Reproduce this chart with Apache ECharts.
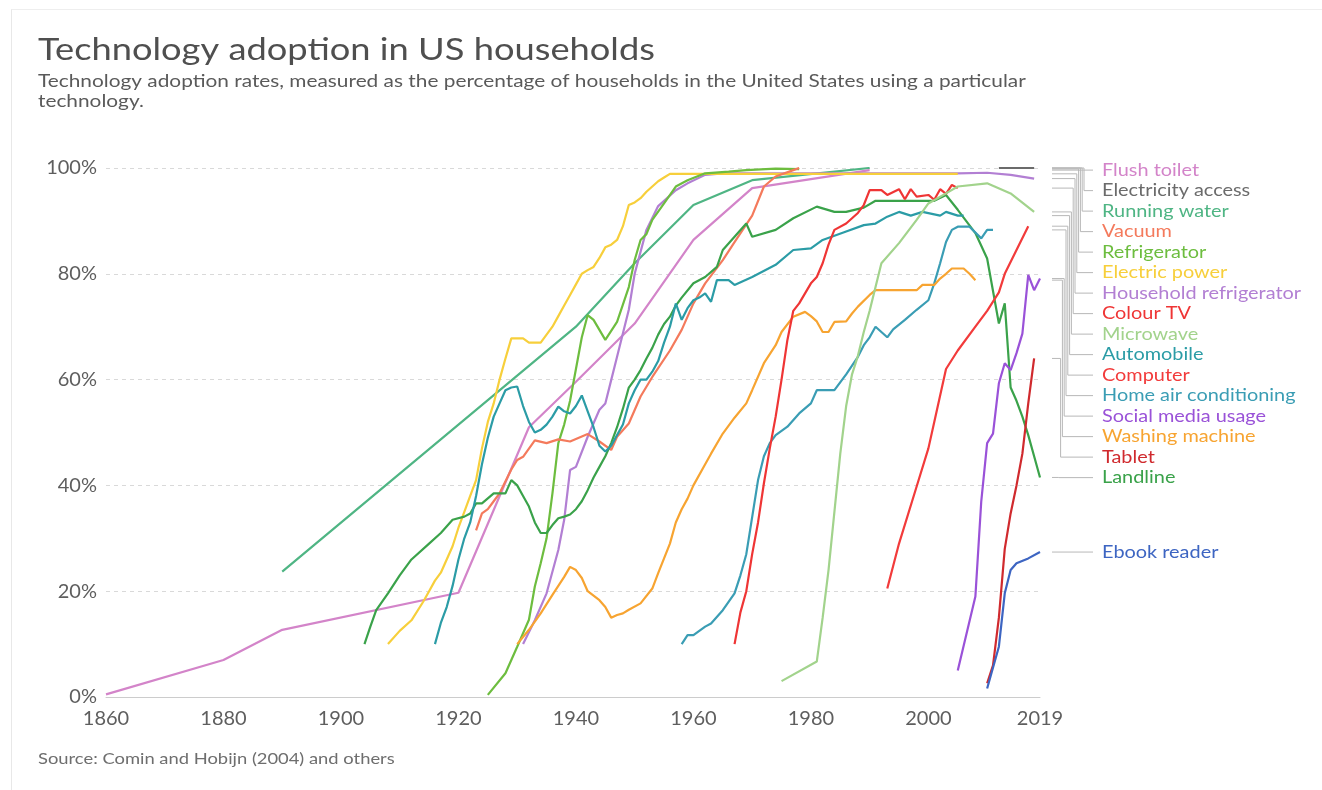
<!DOCTYPE html>
<html>
<head>
<meta charset="utf-8">
<script src="https://cdn.jsdelivr.net/npm/echarts@6/dist/echarts.min.js"></script>
<style>
  html, body { margin: 0; padding: 0; background: #fff; }
  #frame { position: absolute; left: 11px; top: 9px; width: 1330px; height: 800px; border-left: 1px solid #e8e8e8; border-top: 1px solid #eeeeee; }
  #chart { position: absolute; left: 0; top: 0; width: 1322px; height: 790px; }
</style>
</head>
<body>
<div id="frame"></div>
<div id="chart"></div>
<script>
// tick labels
var xTicks = [1860, 1880, 1900, 1920, 1940, 1960, 1980, 2000, 2019];
var yTicks = [0, 20, 40, 60, 80, 100];

// technologies, in the order of the labels on the right
var techNames = ['Flush toilet', 'Electricity access', 'Running water', 'Vacuum', 'Refrigerator',
	'Electric power', 'Household refrigerator', 'Colour TV', 'Microwave', 'Automobile', 'Computer',
	'Home air conditioning', 'Social media usage', 'Washing machine', 'Tablet', 'Landline', 'Ebook reader'];

// [year, % of households]
var flushToilet = [[1860, 0.5], [1880, 7], [1890, 12.7], [1920, 19.7], [1932, 51], [1940, 59.6],
	[1950, 70.6], [1960, 86.4], [1970, 96.2], [1990, 99.6]];
var electricityAccess = [[2012, 100], [2015, 100], [2018, 100]];
var runningWater = [[1890, 23.7], [1940, 70], [1950, 82], [1960, 93], [1970, 97.7], [1990, 100]];
var vacuum = [[1923, 31.5], [1924, 34.7], [1925, 35.5], [1926, 37], [1927, 38.5], [1929, 43], [1930, 44.8],
	[1931, 45.4], [1933, 48.5], [1935, 48], [1937, 48.7], [1939, 48.3], [1942, 49.7], [1944, 48.3],
	[1946, 46.7], [1947, 49.2], [1949, 51.7], [1951, 56.8], [1953, 60.5], [1956, 65.5], [1958, 69.4],
	[1960, 74.4], [1962, 78.2], [1965, 82.6], [1967, 86], [1970, 91], [1972, 96.5], [1974, 98.4],
	[1977, 99.6], [1978, 100]];
var refrigerator = [[1925, 0.4], [1928, 4.5], [1930, 9.5], [1932, 14.6], [1933, 20.9], [1934, 25.3],
	[1935, 30], [1936, 38.5], [1937, 48], [1938, 51.5], [1939, 56], [1940, 62], [1941, 68], [1942, 72.2],
	[1943, 71.3], [1944, 69.4], [1945, 67.5], [1947, 70.9], [1949, 77.5], [1950, 82.6], [1951, 86.4],
	[1952, 87.5], [1953, 90.2], [1955, 93.3], [1957, 96.5], [1959, 97.7], [1962, 99], [1966, 99.3],
	[1969, 99.6], [1974, 99.9], [1978, 99.8]];
var electricPower = [[1908, 10], [1910, 12.5], [1912, 14.5], [1914, 18], [1915, 20], [1916, 22],
	[1917, 23.5], [1918, 26], [1919, 28.5], [1920, 32], [1921, 35], [1922, 38], [1923, 41], [1924, 47],
	[1925, 52], [1926, 55.5], [1927, 60], [1928, 64], [1929, 67.8], [1931, 67.8], [1932, 67], [1934, 67],
	[1935, 68.5], [1936, 70], [1937, 72], [1938, 74], [1939, 76], [1940, 78], [1941, 80], [1942, 80.7],
	[1943, 81.3], [1944, 83], [1945, 85], [1946, 85.5], [1947, 86.4], [1948, 89], [1949, 93], [1950, 93.5],
	[1951, 94.3], [1952, 95.5], [1953, 96.5], [1954, 97.5], [1955, 98.2], [1956, 98.9], [2005, 98.9]];
var householdRefrigerator = [[1931, 10], [1933, 14.5], [1935, 19.6], [1937, 27.8], [1938, 33.5],
	[1939, 42.9], [1940, 43.5], [1942, 49.2], [1944, 54.3], [1945, 55.5], [1946, 59.9], [1947, 64.3],
	[1949, 73.2], [1950, 80], [1952, 88.3], [1954, 92.8], [1957, 95.8], [1959, 97.1], [1962, 98.7],
	[1965, 99], [2005, 99], [2010, 99.1], [2014, 98.7], [2018, 98]];
var colourTV = [[1967, 10], [1968, 16], [1969, 20], [1970, 27], [1971, 33], [1972, 40.4], [1973, 47],
	[1974, 53], [1975, 60], [1976, 67.5], [1977, 73], [1978, 74.4], [1979, 76.3], [1980, 78.2],
	[1981, 79.4], [1982, 82], [1983, 85.5], [1984, 88.3], [1986, 89.5], [1987, 90.5], [1988, 91.5],
	[1989, 93], [1990, 95.8], [1992, 95.8], [1993, 94.9], [1995, 96], [1996, 94.1], [1997, 96],
	[1998, 94.6], [2000, 94.9], [2001, 94], [2002, 96], [2003, 95.1], [2004, 96.8], [2005, 96.2]];
var microwave = [[1975, 3], [1981, 6.7], [1982, 15], [1983, 24], [1984, 35], [1985, 46], [1986, 55],
	[1987, 61], [1988, 64.5], [1989, 69], [1990, 73], [1991, 77.5], [1992, 82], [1995, 85.8], [1998, 90.2],
	[2000, 93.3], [2003, 95.2], [2005, 96.5], [2010, 97.1], [2014, 95.2], [2018, 91.7]];
var automobile = [[1916, 10], [1917, 14], [1918, 17], [1919, 21], [1920, 26], [1921, 30], [1922, 33],
	[1923, 38], [1924, 44], [1925, 49], [1926, 53], [1927, 55.5], [1928, 58], [1929, 58.5], [1930, 58.7],
	[1931, 55], [1932, 52], [1933, 50], [1934, 50.5], [1935, 51.5], [1936, 53], [1937, 54.9], [1938, 54],
	[1939, 53.6], [1940, 55], [1941, 57], [1942, 54], [1943, 51], [1944, 47.5], [1945, 46.4], [1946, 47.5],
	[1947, 49.5], [1948, 51.5], [1949, 55.5], [1950, 58], [1951, 60], [1952, 60], [1953, 61.5], [1954, 63.5],
	[1955, 67], [1956, 70], [1957, 74.4], [1958, 71.3], [1959, 73.5], [1960, 75], [1961, 75.5],
	[1962, 76.3], [1963, 74.7], [1964, 78.8], [1966, 78.8], [1967, 77.9], [1970, 79.4], [1974, 81.7],
	[1977, 84.5], [1980, 84.8], [1982, 86.4], [1986, 88], [1989, 89.2], [1991, 89.5], [1993, 90.8],
	[1995, 91.7], [1997, 91], [1999, 91.7], [2002, 91], [2003, 91.7], [2005, 91], [2006, 91]];
var computer = [[1993, 20.5], [1995, 29], [1998, 39.8], [2000, 47], [2001, 52], [2003, 62], [2005, 65.5],
	[2008, 70], [2010, 73], [2012, 76.5], [2013, 80], [2015, 84.5], [2017, 89]];
var homeAirConditioning = [[1958, 10], [1959, 11.7], [1960, 11.7], [1961, 12.5], [1962, 13.3],
	[1963, 13.9], [1965, 16.4], [1967, 19.6], [1968, 23], [1969, 27], [1970, 34], [1971, 41], [1972, 45.5],
	[1973, 48], [1974, 49.5], [1976, 51.1], [1978, 53.6], [1980, 55.5], [1981, 58], [1984, 58], [1986, 61],
	[1988, 64.3], [1989, 66.5], [1990, 68], [1991, 70], [1993, 68], [1994, 69.5], [1996, 71.3],
	[1998, 73.2], [2000, 75], [2001, 78.2], [2002, 82], [2003, 86], [2004, 88.3], [2005, 88.9],
	[2007, 88.9], [2009, 86.7], [2010, 88.3], [2011, 88.3]];
var socialMedia = [[2005, 5], [2008, 19], [2009, 37], [2010, 48], [2011, 49.8], [2012, 59.3], [2013, 63.1],
	[2014, 61.8], [2015, 65], [2016, 68.7], [2017, 79.8], [2018, 76.9], [2019, 79.1]];
var washingMachine = [[1930, 10], [1932, 12.7], [1934, 15.8], [1936, 19.3], [1937, 21], [1938, 22.7],
	[1939, 24.6], [1940, 24], [1941, 22.5], [1942, 20], [1944, 18.3], [1945, 17], [1946, 15], [1947, 15.5],
	[1948, 15.8], [1949, 16.5], [1951, 17.7], [1953, 20.5], [1954, 23.4], [1956, 29], [1957, 33],
	[1958, 35.5], [1959, 37.5], [1960, 40], [1962, 44], [1963, 46], [1965, 49.8], [1967, 52.8], [1969, 55.5],
	[1970, 58], [1972, 63.1], [1974, 66.5], [1975, 69], [1977, 71.9], [1979, 72.8], [1980, 72], [1981, 71],
	[1982, 69], [1983, 69], [1984, 70.9], [1986, 71], [1987, 72.5], [1988, 73.8], [1990, 76], [1991, 76.9],
	[1998, 76.9], [1999, 77.9], [2001, 77.9], [2002, 79.1], [2003, 80], [2004, 81], [2006, 81],
	[2007, 80], [2008, 78.8]];
var tablet = [[2010, 2.6], [2011, 6], [2012, 15], [2013, 28], [2014, 34.7], [2015, 40], [2016, 46],
	[2017, 55.5], [2018, 64]];
var landline = [[1904, 10], [1905, 13.3], [1906, 16.4], [1908, 19.6], [1910, 23], [1912, 26], [1915, 29],
	[1917, 31], [1919, 33.5], [1921, 34.1], [1922, 34.7], [1923, 36.6], [1924, 36.6], [1926, 38.5],
	[1928, 38.5], [1929, 41], [1930, 40], [1931, 38], [1932, 36], [1933, 33], [1934, 31], [1935, 31],
	[1936, 32.5], [1937, 33.8], [1938, 34.1], [1939, 34.5], [1940, 35.5], [1941, 37], [1942, 39.1],
	[1943, 41.5], [1944, 43.5], [1945, 45.5], [1946, 48], [1947, 51], [1948, 54.5], [1949, 58.5],
	[1950, 60], [1951, 61.8], [1952, 64], [1953, 66], [1954, 68.5], [1955, 70.5], [1956, 71.9], [1957, 74],
	[1958, 75.5], [1960, 78.2], [1962, 79.4], [1964, 81.3], [1965, 84.5], [1967, 87], [1969, 89.5],
	[1970, 87], [1974, 88.3], [1977, 90.5], [1981, 92.7], [1984, 91.7], [1986, 91.7], [1989, 92.5],
	[1991, 93.8], [2001, 93.8], [2003, 94.9], [2005, 92.1], [2008, 87.7], [2010, 82.9], [2012, 70.6],
	[2013, 74.4], [2014, 58.5], [2015, 56], [2016, 53], [2017, 49.5], [2018, 45.5], [2019, 41.5]];
var ebookReader = [[2010, 1.6], [2012, 9.5], [2013, 19.6], [2014, 24], [2015, 25.3], [2017, 26.2], [2019, 27.4]];

var techData = [flushToilet, electricityAccess, runningWater, vacuum, refrigerator, electricPower,
	householdRefrigerator, colourTV, microwave, automobile, computer, homeAirConditioning, socialMedia,
	washingMachine, tablet, landline, ebookReader];

var techColors = ['#d384c9', '#6b6b6b', '#4fb584', '#f47a5c', '#6dbd3f', '#f7cf3b', '#b27fd3', '#ef3535',
	'#a2d38c', '#2b9ca6', '#f23b3b', '#3a9db4', '#9a52d8', '#f7a431', '#d02a2e', '#3aa24a', '#3d65c2'];

// draw order (later on top)
var drawOrder = [2, 0, 1, 6, 5, 4, 3, 15, 9, 11, 13, 7, 8, 10, 12, 14, 16];

var FONT = 'Lato, "Open Sans", sans-serif';
var X_END = xTicks[xTicks.length - 1];
// the reference lettering is a little wider than plain Lato
var STRETCH = 1.17;

var chart = echarts.init(document.getElementById('chart'));

var series = drawOrder.map(function (i) {
	return {
		name: techNames[i],
		type: 'line',
		data: techData[i],
		showSymbol: false,
		silent: true,
		lineStyle: { width: 2.2, color: techColors[i] },
		itemStyle: { color: techColors[i] }
	};
});

// last value of every series, used for the labels on the right
var endValues = techData.map(function (d) { return d[d.length - 1][1]; });

var labelGap = 20.5;
function slotY(api, idx) {
	var y = 0;
	for (var k = 0; k <= idx; k++) {
		var want = api.coord([X_END, endValues[k]])[1];
		y = k === 0 ? want : Math.max(want, y + labelGap);
	}
	return y;
}

series.push({
	type: 'custom',
	silent: true,
	clip: false,
	data: endValues.map(function (v, i) { return [X_END, v, i]; }),
	renderItem: function (params, api) {
		var i = api.value(2);
		var p = api.coord([api.value(0), api.value(1)]);
		var ys = slotY(api, i);
		var x0 = p[0] + 12;
		var xe = i === 0 || i === techNames.length - 1 ? p[0] + 30 : p[0] + 44 - (i - 1) * 1.8;
		var x1 = p[0] + 53;
		return {
			type: 'group',
			children: [{
				type: 'polyline',
				shape: { points: [[x0, p[1]], [xe, p[1]], [xe, ys], [x1, ys]] },
				style: { stroke: '#b8b8b8', lineWidth: 1, fill: null }
			}, {
				type: 'text',
				x: p[0] + 62,
				y: ys,
				scaleX: STRETCH,
				style: {
					text: techNames[i],
					x: 0,
					y: 0,
					fill: techColors[i],
					font: '17px ' + FONT,
					verticalAlign: 'middle',
					align: 'left'
				}
			}]
		};
	}
});

function headText(text, x, y, size, color, stretch) {
	return {
		type: 'text',
		x: x,
		y: y,
		scaleX: stretch,
		silent: true,
		style: {
			text: text,
			font: size + 'px ' + FONT,
			fill: color,
			textAlign: 'left',
			textVerticalAlign: 'middle',
			align: 'left',
			verticalAlign: 'middle'
		}
	};
}

var option = {
	animation: false,
	textStyle: { fontFamily: FONT },
	graphic: [
		headText('Technology adoption in US households', 38, 50, 31, '#4f4f4f', STRETCH),
		headText('Technology adoption rates, measured as the percentage of households in the United States using a particular', 38, 82, 17, '#5a5a5a', 1.225),
		headText('technology.', 38, 102, 17, '#5a5a5a', 1.225),
		headText('Source: Comin and Hobijn (2004) and others', 38, 759, 15.3, '#6e6e6e', 1.2)
	],
	grid: { left: 106, right: 282, top: 168, bottom: 93, containLabel: false, outerBoundsMode: 'none' },
	xAxis: {
		type: 'value',
		min: xTicks[0],
		max: X_END,
		interval: 20,
		axisLine: { lineStyle: { color: '#cccccc', width: 1 } },
		axisTick: { show: false },
		splitLine: { show: false },
		axisLabel: {
			customValues: xTicks,
			showMaxLabel: true,
			margin: 12,
			fontSize: 20,
			color: '#5e5e5e',
			fontFamily: FONT,
			formatter: function (v) { return String(v); }
		}
	},
	yAxis: {
		type: 'value',
		min: yTicks[0],
		max: yTicks[yTicks.length - 1],
		interval: 20,
		axisLine: { show: false },
		axisTick: { show: false },
		splitLine: { lineStyle: { color: '#d9d9d9', type: [4, 4], width: 1 } },
		axisLabel: {
			margin: 9,
			fontSize: 20,
			color: '#5e5e5e',
			fontFamily: FONT,
			formatter: '{value}%'
		}
	},
	series: series
};

chart.setOption(option);
</script>
</body>
</html>
